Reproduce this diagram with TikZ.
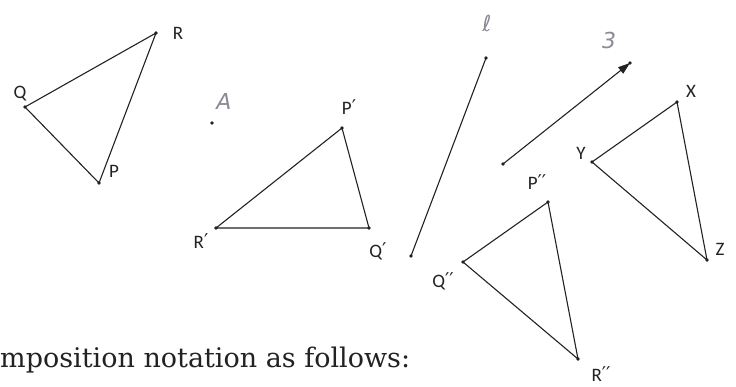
\documentclass[tikz,border=0pt]{standalone}
\usepackage{fontspec}
\setmainfont{DejaVu Serif}
\newfontfamily\lblfont{Carlito}
\newfontfamily\primefont{DejaVu Sans}
\newfontfamily\handfont{DejaVu Sans}
\newcommand{\pr}{{\primefont\fontsize{19}{19}\selectfont\raisebox{1pt}{′}}}
\usetikzlibrary{arrows.meta}
\definecolor{ink}{HTML}{222222}
\definecolor{pencil}{HTML}{8A8A96}
\tikzset{
  seg/.style={draw=ink, line width=1.1pt},
  pt/.style={circle, fill=ink, inner sep=0pt, minimum size=3.6pt},
  lbl/.style={font=\lblfont\fontsize{19}{19}\selectfont, text=ink, inner sep=0pt},
  hand/.style={font=\handfont\itshape\fontsize{22}{22}\selectfont, text=pencil, inner sep=0pt},
}
\begin{document}
\begin{tikzpicture}[x=1pt,y=-1pt]
\useasboundingbox (0,0) rectangle (736,386);
% triangle PQR
\node[pt] (R) at (156,33) {};
\node[pt] (Q) at (25,107) {};
\node[pt] (P) at (99,183) {};
\draw[seg] (R.center) -- (Q.center) -- (P.center) -- cycle;
\node[lbl] (lR) at (178,33) {R};
\node[lbl] (lQ) at (20,94) {Q};
\node[lbl] (lP) at (114,171) {P};
% point A
\node[pt] (A) at (212,123) {};
\node[hand] (lA) at (224,101) {A};
% triangle P'Q'R'
\node[pt] (P1) at (342,128) {};
\node[pt] (Q1) at (369,228) {};
\node[pt] (R1) at (216,228) {};
\draw[seg] (P1.center) -- (Q1.center) -- (R1.center) -- cycle;
\node[lbl] (lP1) at (349,107) {P\pr};
\node[lbl] (lQ1) at (378,251) {Q\pr};
\node[lbl] (lR1) at (201,241) {R\pr};
% line l
\node[pt] (l1) at (486,58) {};
\node[pt] (l2) at (411,256) {};
\draw[seg] (l1.center) -- (l2.center);
\node[hand] (ll) at (487,23) {ℓ};
% vector
\node[pt] (v1) at (503,164) {};
\node[pt] (v2) at (630,63) {};
\draw[seg, -{Triangle[length=12pt,width=8pt]}] (v1.center) -- (v2.center);
\node[hand] (lv) at (609,40) {3};
% triangle XYZ
\node[pt] (X) at (677,102) {};
\node[pt] (Y) at (592,162) {};
\node[pt] (Z) at (707,260) {};
\draw[seg] (X.center) -- (Y.center) -- (Z.center) -- cycle;
\node[lbl] (lX) at (691,91) {X};
\node[lbl] (lY) at (581,153) {Y};
\node[lbl] (lZ) at (720,249) {Z};
% triangle P''Q''R''
\node[pt] (P2) at (548,202) {};
\node[pt] (Q2) at (463,262) {};
\node[pt] (R2) at (578,359) {};
\draw[seg] (P2.center) -- (Q2.center) -- (R2.center) -- cycle;
\node[lbl] (lP2) at (537,182) {P\pr\pr};
\node[lbl] (lQ2) at (443,281) {Q\pr\pr};
\node[lbl] (lR2) at (601,374) {R\pr\pr};
% bottom text
\node[anchor=base west, inner sep=0pt, font=\fontsize{27}{27}\selectfont, text=ink] (txt) at (0,367) {mposition notation as follows:};
\end{tikzpicture}
\end{document}
